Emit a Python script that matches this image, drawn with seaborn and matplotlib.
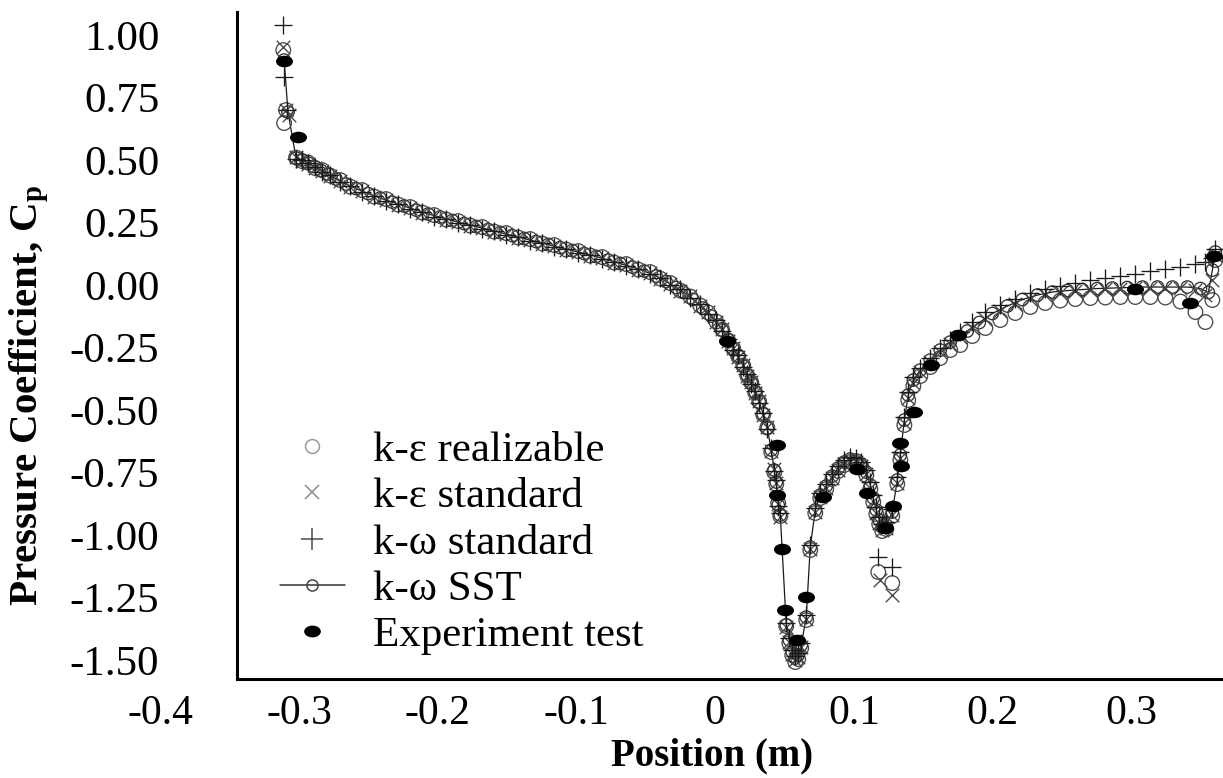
import numpy as np
import pandas as pd
import matplotlib
matplotlib.use("Agg")
import matplotlib.pyplot as plt
import seaborn as sns
from matplotlib.lines import Line2D
from matplotlib.path import Path
from matplotlib.transforms import Affine2D

sns.set_theme(style="white")
plt.rcParams['font.family'] = ['Liberation Serif', 'DejaVu Serif']
plt.rcParams['text.color'] = 'black'
plt.rcParams['mathtext.fontset'] = 'custom'
plt.rcParams['mathtext.rm'] = 'Liberation Serif:bold'
plt.rcParams['mathtext.it'] = 'Liberation Serif:bold'
plt.rcParams['mathtext.bf'] = 'Liberation Serif:bold'

# ---------------- data ----------------
x_cfd = [
    -0.3021, -0.2978, -0.2934, -0.2884, -0.2833, -0.2776, -0.2704, -0.2632, -0.2545, -0.2459,
    -0.2372, -0.2286, -0.2199, -0.2112, -0.2026, -0.1939, -0.1853, -0.1766, -0.1680, -0.1593,
    -0.1507, -0.1420, -0.1334, -0.1247, -0.1161, -0.1074, -0.0988, -0.0901, -0.0815, -0.0728,
    -0.0642, -0.0555, -0.0469, -0.0397, -0.0324, -0.0252, -0.0180, -0.0108, -0.0050, 0.0007,
    0.0050, 0.0094, 0.0130, 0.0166, 0.0202, 0.0231, 0.0260, 0.0288, 0.0317, 0.0346,
    0.0375, 0.0404, 0.0425, 0.0440, 0.0454, 0.0469, 0.0512, 0.0534, 0.0555, 0.0577,
    0.0598, 0.0620, 0.0656, 0.0685, 0.0721, 0.0757, 0.0800, 0.0844, 0.0887, 0.0930,
    0.0973, 0.1017, 0.1053, 0.1089, 0.1118, 0.1139, 0.1161, 0.1182, 0.1204, 0.1233,
    0.1276, 0.1312, 0.1334, 0.1363, 0.1391, 0.1428, 0.1478, 0.1550, 0.1622, 0.1694,
    0.1766, 0.1853, 0.1947, 0.2055, 0.2163, 0.2271, 0.2379, 0.2487, 0.2596, 0.2704,
    0.2812, 0.2920, 0.3028, 0.3136, 0.3244, 0.3353, 0.3461, 0.3533, 0.3583, 0.3605,
]

y_ke_realizable = [
    0.510, 0.496, 0.490, 0.468, 0.460, 0.438, 0.420, 0.394, 0.380, 0.354,
    0.344, 0.322, 0.312, 0.290, 0.280, 0.262, 0.256, 0.238, 0.232, 0.214,
    0.208, 0.190, 0.184, 0.166, 0.160, 0.142, 0.136, 0.118, 0.112, 0.090,
    0.084, 0.062, 0.052, 0.026, 0.008, -0.022, -0.046, -0.082, -0.110, -0.146,
    -0.178, -0.222, -0.254, -0.286, -0.322, -0.362, -0.390, -0.430, -0.466, -0.518,
    -0.570, -0.668, -0.748, -0.796, -0.872, -0.924, -1.364, -1.432, -1.480, -1.508,
    -1.496, -1.452, -1.340, -1.060, -0.912, -0.852, -0.816, -0.776, -0.744, -0.720,
    -0.708, -0.712, -0.728, -0.760, -0.816, -0.868, -0.916, -0.956, -0.984, -0.976,
    -0.924, -0.796, -0.700, -0.560, -0.460, -0.404, -0.364, -0.328, -0.292, -0.260,
    -0.240, -0.204, -0.172, -0.140, -0.112, -0.088, -0.072, -0.062, -0.056, -0.052,
    -0.050, -0.048, -0.048, -0.048, -0.050, -0.066, -0.108, -0.148, -0.060, 0.100,
]

y_ke_standard = [
    0.512, 0.498, 0.484, 0.470, 0.458, 0.436, 0.418, 0.392, 0.378, 0.352,
    0.342, 0.320, 0.310, 0.288, 0.278, 0.260, 0.254, 0.236, 0.230, 0.212,
    0.206, 0.188, 0.182, 0.164, 0.158, 0.140, 0.134, 0.116, 0.110, 0.088,
    0.082, 0.060, 0.050, 0.024, 0.006, -0.024, -0.044, -0.084, -0.108, -0.148,
    -0.176, -0.224, -0.252, -0.288, -0.320, -0.364, -0.388, -0.432, -0.464, -0.520,
    -0.568, -0.664, -0.736, -0.792, -0.876, -0.928, -1.368, -1.428, -1.476, -1.500,
    -1.488, -1.448, -1.336, -1.056, -0.908, -0.848, -0.812, -0.772, -0.740, -0.716,
    -0.704, -0.708, -0.724, -0.756, -0.812, -0.864, -0.912, -0.952, -0.980, -0.972,
    -0.920, -0.792, -0.692, -0.552, -0.452, -0.392, -0.348, -0.308, -0.268, -0.236,
    -0.208, -0.172, -0.136, -0.104, -0.076, -0.056, -0.040, -0.030, -0.024, -0.020,
    -0.016, -0.014, -0.012, -0.010, -0.010, -0.012, -0.020, -0.040, 0.020, 0.120,
]

y_kw_standard = [
    0.504, 0.502, 0.490, 0.474, 0.454, 0.442, 0.414, 0.398, 0.374, 0.358,
    0.338, 0.326, 0.306, 0.294, 0.274, 0.266, 0.250, 0.242, 0.226, 0.218,
    0.202, 0.194, 0.178, 0.170, 0.154, 0.146, 0.130, 0.122, 0.106, 0.094,
    0.078, 0.066, 0.046, 0.030, 0.002, -0.016, -0.050, -0.076, -0.114, -0.140,
    -0.184, -0.216, -0.258, -0.280, -0.328, -0.356, -0.396, -0.424, -0.472, -0.512,
    -0.576, -0.652, -0.744, -0.780, -0.884, -0.912, -1.352, -1.412, -1.460, -1.484,
    -1.472, -1.432, -1.320, -1.040, -0.892, -0.832, -0.796, -0.756, -0.724, -0.700,
    -0.688, -0.692, -0.708, -0.740, -0.788, -0.840, -0.888, -0.928, -0.956, -0.948,
    -0.896, -0.768, -0.668, -0.528, -0.428, -0.368, -0.332, -0.292, -0.252, -0.220,
    -0.188, -0.148, -0.108, -0.080, -0.056, -0.032, -0.016, -0.004, 0.008, 0.020,
    0.028, 0.036, 0.044, 0.056, 0.064, 0.072, 0.084, 0.092, 0.110, 0.144,
]

# k-omega SST is sampled at its own positions (offset from the other models)
x_sst = [
    -0.2978, -0.2935, -0.2891, -0.2841, -0.2790, -0.2733, -0.2661, -0.2589, -0.2502, -0.2416,
    -0.2329, -0.2243, -0.2156, -0.2069, -0.1983, -0.1896, -0.1810, -0.1723, -0.1637, -0.1550,
    -0.1464, -0.1377, -0.1291, -0.1204, -0.1118, -0.1031, -0.0945, -0.0858, -0.0772, -0.0685,
    -0.0599, -0.0512, -0.0426, -0.0354, -0.0281, -0.0230, -0.0160, -0.0090, -0.0030, 0.0025,
    0.0050, 0.0094, 0.0130, 0.0166, 0.0202, 0.0231, 0.0260, 0.0288, 0.0317, 0.0346,
    0.0375, 0.0404, 0.0425, 0.0440, 0.0454, 0.0469, 0.0512, 0.0534, 0.0555, 0.0577,
    0.0598, 0.0620, 0.0656, 0.0685, 0.0721, 0.0757, 0.0800, 0.0844, 0.0887, 0.0930,
    0.0973, 0.1017, 0.1053, 0.1089, 0.1118, 0.1139, 0.1161, 0.1182, 0.1204, 0.1233,
    0.1276, 0.1312, 0.1334, 0.1363, 0.1391, 0.1428, 0.1478, 0.1550, 0.1622, 0.1694,
    0.1817, 0.1903, 0.1997, 0.2105, 0.2213, 0.2322, 0.2430, 0.2538, 0.2646, 0.2754,
    0.2862, 0.2970, 0.3079, 0.3187, 0.3295, 0.3403, 0.3497, 0.3554, 0.3583, 0.3605,
]
y_kw_sst = [
    0.500, 0.488, 0.474, 0.458, 0.444, 0.424, 0.404, 0.386, 0.366, 0.348,
    0.332, 0.316, 0.300, 0.284, 0.272, 0.258, 0.246, 0.234, 0.222, 0.210,
    0.198, 0.186, 0.174, 0.162, 0.150, 0.138, 0.126, 0.114, 0.100, 0.086,
    0.072, 0.056, 0.036, 0.014, -0.010, -0.028, -0.058, -0.092, -0.124, -0.160,
    -0.180, -0.220, -0.256, -0.284, -0.324, -0.360, -0.392, -0.428, -0.468, -0.516,
    -0.572, -0.660, -0.740, -0.788, -0.880, -0.920, -1.360, -1.420, -1.468, -1.492,
    -1.480, -1.440, -1.328, -1.048, -0.900, -0.840, -0.804, -0.764, -0.732, -0.708,
    -0.696, -0.700, -0.716, -0.748, -0.800, -0.852, -0.900, -0.940, -0.968, -0.960,
    -0.908, -0.780, -0.680, -0.540, -0.440, -0.380, -0.340, -0.300, -0.260, -0.228,
    -0.184, -0.150, -0.114, -0.084, -0.058, -0.040, -0.028, -0.022, -0.018, -0.014,
    -0.012, -0.010, -0.008, -0.008, -0.008, -0.008, -0.014, -0.030, 0.060, 0.132,
]

# leading-edge points and the separated points near the second trough
real_extra_x = [-0.3113, -0.3107, -0.3093, 0.1175, 0.1276]
real_extra_y = [0.940, 0.648, 0.700, -1.148, -1.192]
kestd_extra_x = [-0.3113, -0.3093, -0.3071, 0.1190, 0.1276]
kestd_extra_y = [0.952, 0.700, 0.680, -1.180, -1.240]
kwstd_extra_x = [-0.3113, -0.3107, -0.3086, 0.1175, 0.1276]
kwstd_extra_y = [1.040, 0.832, 0.700, -1.088, -1.128]
sst_start_x = [-0.3107, -0.3079, -0.3021]
sst_start_y = [0.900, 0.692, 0.508]

exp_x = [-0.3107, -0.3006, 0.0087, 0.0447, 0.0447, 0.0483, 0.0505, 0.0591, 0.0656, 0.0779,
         0.1024, 0.1096, 0.1226, 0.1283, 0.1341, 0.1334, 0.1435, 0.1557, 0.1752, 0.3028,
         0.3425, 0.3598]
exp_y = [0.896, 0.592, -0.224, -0.640, -0.840, -1.056, -1.300, -1.420, -1.248, -0.848,
         -0.736, -0.832, -0.972, -0.884, -0.724, -0.632, -0.508, -0.320, -0.200, -0.016,
         -0.072, 0.116]

x_ticks = [-0.4, -0.3, -0.2, -0.1, 0.0, 0.1, 0.2, 0.3]
x_tick_labels = ["-0.4", "-0.3", "-0.2", "-0.1", "0", "0.1", "0.2", "0.3"]
y_ticks = [1.00, 0.75, 0.50, 0.25, 0.00, -0.25, -0.50, -0.75, -1.00, -1.25, -1.50]
y_tick_labels = ["1.00", "0.75", "0.50", "0.25", "0.00", "-0.25", "-0.50",
                 "-0.75", "-1.00", "-1.25", "-1.50"]
legend_labels = ["k-\u03b5 realizable", "k-\u03b5 standard", "k-\u03c9 standard",
                 "k-\u03c9 SST", "Experiment test"]

# ---------------- figure ----------------
fig = plt.figure(figsize=(12.23, 7.78), dpi=100)
ax = fig.add_axes([0.1310, 0.1272, 0.8687, 0.8573])
ax.set_facecolor("white")

df_real = pd.DataFrame({"x": real_extra_x[:3] + x_cfd + real_extra_x[3:],
                        "y": real_extra_y[:3] + y_ke_realizable + real_extra_y[3:]})
df_kestd = pd.DataFrame({"x": kestd_extra_x[:3] + x_cfd + kestd_extra_x[3:],
                         "y": kestd_extra_y[:3] + y_ke_standard + kestd_extra_y[3:]})
df_kwstd = pd.DataFrame({"x": kwstd_extra_x[:3] + x_cfd + kwstd_extra_x[3:],
                         "y": kwstd_extra_y[:3] + y_kw_standard + kwstd_extra_y[3:]})
df_sst = pd.DataFrame({"x": sst_start_x + x_sst, "y": sst_start_y + y_kw_sst})
df_exp = pd.DataFrame({"x": exp_x, "y": exp_y})

ellipse = Path.unit_circle().transformed(Affine2D().scale(1.0, 0.68))

c_real, c_kestd, c_kwstd, c_sst = "#4a4a4a", "#444444", "#1a1a1a", "#343434"

sns.lineplot(data=df_sst, x="x", y="y", sort=False, estimator=None,
             color="#1a1a1a", linewidth=0.9, ax=ax, zorder=2)
sns.scatterplot(data=df_real, x="x", y="y", marker="o", s=110,
                facecolor="none", edgecolor=c_real, linewidth=0.95, ax=ax, zorder=3)
sns.scatterplot(data=df_sst, x="x", y="y", marker="o", s=80,
                facecolor="none", edgecolor=c_sst, linewidth=0.95, ax=ax, zorder=3)
sns.scatterplot(data=df_kestd, x="x", y="y", marker="x", s=95, color=c_kestd,
                edgecolor=None, linewidth=0.95, ax=ax, zorder=3)
sns.scatterplot(data=df_kwstd, x="x", y="y", marker="+", s=160, color=c_kwstd,
                edgecolor=None, linewidth=0.95, ax=ax, zorder=3)
sns.scatterplot(data=df_exp, x="x", y="y", marker=ellipse, s=150, color="black",
                edgecolor=None, linewidth=0, ax=ax, zorder=4)

# axes limits and spines
ax.set_xlim(-0.400, 0.3657)
ax.set_ylim(-1.576, 1.092)
for side in ["top", "right"]:
    ax.spines[side].set_visible(False)
ax.spines["left"].set_position(("data", -0.3446))
ax.spines["left"].set_linewidth(2.2)
ax.spines["left"].set_color("black")
ax.spines["bottom"].set_bounds(-0.3446, 0.3657)
ax.spines["bottom"].set_linewidth(2.2)
ax.spines["bottom"].set_color("black")

ax.set_xticks(x_ticks)
ax.set_xticklabels(x_tick_labels)
ax.set_yticks(y_ticks)
ax.set_yticklabels(y_tick_labels)
ax.tick_params(axis="x", length=0, pad=11, labelsize=30, colors="black")
ax.tick_params(axis="y", length=0, pad=56, labelsize=31, colors="black")

ax.set_xlabel("Position (m)", fontsize=28, fontweight="bold", color="black")
ax.xaxis.set_label_coords(0.519, -0.088)
ax.set_ylabel("Pressure Coefficient, C$_\\mathrm{p}$", fontsize=29.5,
              fontweight="bold", color="black")
ax.yaxis.set_label_coords(-0.1025, 0.426)

handles = [
    Line2D([], [], linestyle="none", marker="o", markersize=10,
           markerfacecolor="none", markeredgecolor="#9a9a9a", markeredgewidth=1.1),
    Line2D([], [], linestyle="none", marker="x", markersize=10.5,
           color="#8c8c8c", markeredgewidth=1.1),
    Line2D([], [], linestyle="none", marker="+", markersize=16,
           color="#4a4a4a", markeredgewidth=1.1),
    Line2D([], [], color="#333333", linewidth=1.1, marker="o", markersize=8,
           markerfacecolor="none", markeredgecolor="#444444", markeredgewidth=1.1),
    Line2D([], [], linestyle="none", marker=ellipse, markersize=11, color="black"),
]
ax.legend(handles, legend_labels, loc="upper left",
          bbox_to_anchor=(280 / 1223, 1 - 431 / 778), bbox_transform=fig.transFigure,
          frameon=False, fontsize=31, handlelength=1.5, handletextpad=0.65,
          labelspacing=0.165, borderpad=0, borderaxespad=0, labelcolor="black")

fig.savefig("out.png", dpi=100, facecolor="white")
